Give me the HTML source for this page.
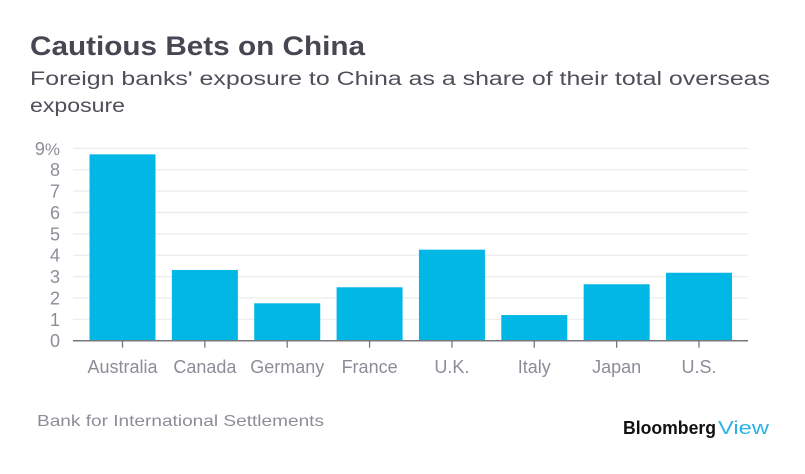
<!DOCTYPE html>
<html><head><meta charset="utf-8"><style>
html,body{margin:0;padding:0;background:#fff;}
svg{display:block;font-family:"Liberation Sans",sans-serif;}
</style></head><body>
<svg id="chart" width="805" height="474" viewBox="0 0 805 474">
<text x="30" y="55" font-size="27" font-weight="bold" fill="#474753" textLength="335" lengthAdjust="spacingAndGlyphs">Cautious Bets on China</text>
<text x="30" y="85" font-size="19" fill="#4f4f5a" textLength="740" lengthAdjust="spacingAndGlyphs">Foreign banks' exposure to China as a share of their total overseas</text>
<text x="30" y="112" font-size="19" fill="#4f4f5a" textLength="95" lengthAdjust="spacingAndGlyphs">exposure</text>
<g id="grid"></g>
<g id="bars"></g>
<g id="axis"></g>
<text x="37" y="426" font-size="16" fill="#8d8d98" textLength="287" lengthAdjust="spacingAndGlyphs">Bank for International Settlements</text>
<g>
<text x="623" y="434" font-size="18" font-weight="bold" fill="#111" textLength="93" lengthAdjust="spacingAndGlyphs">Bloomberg</text>
<text x="718" y="434" font-size="18" fill="#2bb3e6" textLength="51" lengthAdjust="spacingAndGlyphs">View</text>
</g>
</svg>
<script>
const categories = ["Australia","Canada","Germany","France","U.K.","Italy","Japan","U.S."];
const values = [8.72, 3.31, 1.75, 2.5, 4.26, 1.2, 2.64, 3.18];
const yTicks = [0,1,2,3,4,5,6,7,8,9];
const yTickLabels = ["0","1","2","3","4","5","6","7","8","9%"];

const NS = "http://www.w3.org/2000/svg";
const y0 = 340.7, unit = 21.37;
const yScale = v => y0 - v * unit;
const xCenter = i => 122.5 + i * 82.36;
const barW = 66;
function mk(tag, attrs, parent){const e=document.createElementNS(NS,tag);for(const k in attrs)e.setAttribute(k,attrs[k]);parent.appendChild(e);return e;}
const grid=document.getElementById('grid'), bars=document.getElementById('bars'), axis=document.getElementById('axis');
yTicks.forEach((t,i)=>{
  if(t>0){
    const l=mk('line',{x1:73,x2:748,y1:yScale(t),y2:yScale(t),stroke:'#ebebee','stroke-width':1.2},grid);
    
    
  }
  const tx=mk('text',{x:60,y:yScale(t)+6.5,'font-size':18,fill:'#8d8d98','text-anchor':'end'},axis);
  tx.textContent=yTickLabels[i].replace('%','');
  if(yTickLabels[i].includes('%')){const ts=mk('tspan',{'font-size':17},tx);ts.textContent='%';}
  
  
});
categories.forEach((c,i)=>{
  const cx=xCenter(i);
  const r=mk('rect',{x:cx-barW/2,y:yScale(values[i]),width:barW,height:y0-yScale(values[i]),fill:'#00b7e5'},bars);
  
  
  const tk=mk('line',{x1:cx,x2:cx,y1:y0,y2:y0+7,stroke:'#77777f','stroke-width':1.3},axis);
  
  
  const lb=mk('text',{x:cx,y:373,'font-size':18,fill:'#8d8d98','text-anchor':'middle'},axis);
  lb.textContent=c;
  
  
});
const ax=mk('line',{x1:73,x2:748,y1:y0,y2:y0,stroke:'#77777f','stroke-width':1.5},axis);


</script>
</body></html>
